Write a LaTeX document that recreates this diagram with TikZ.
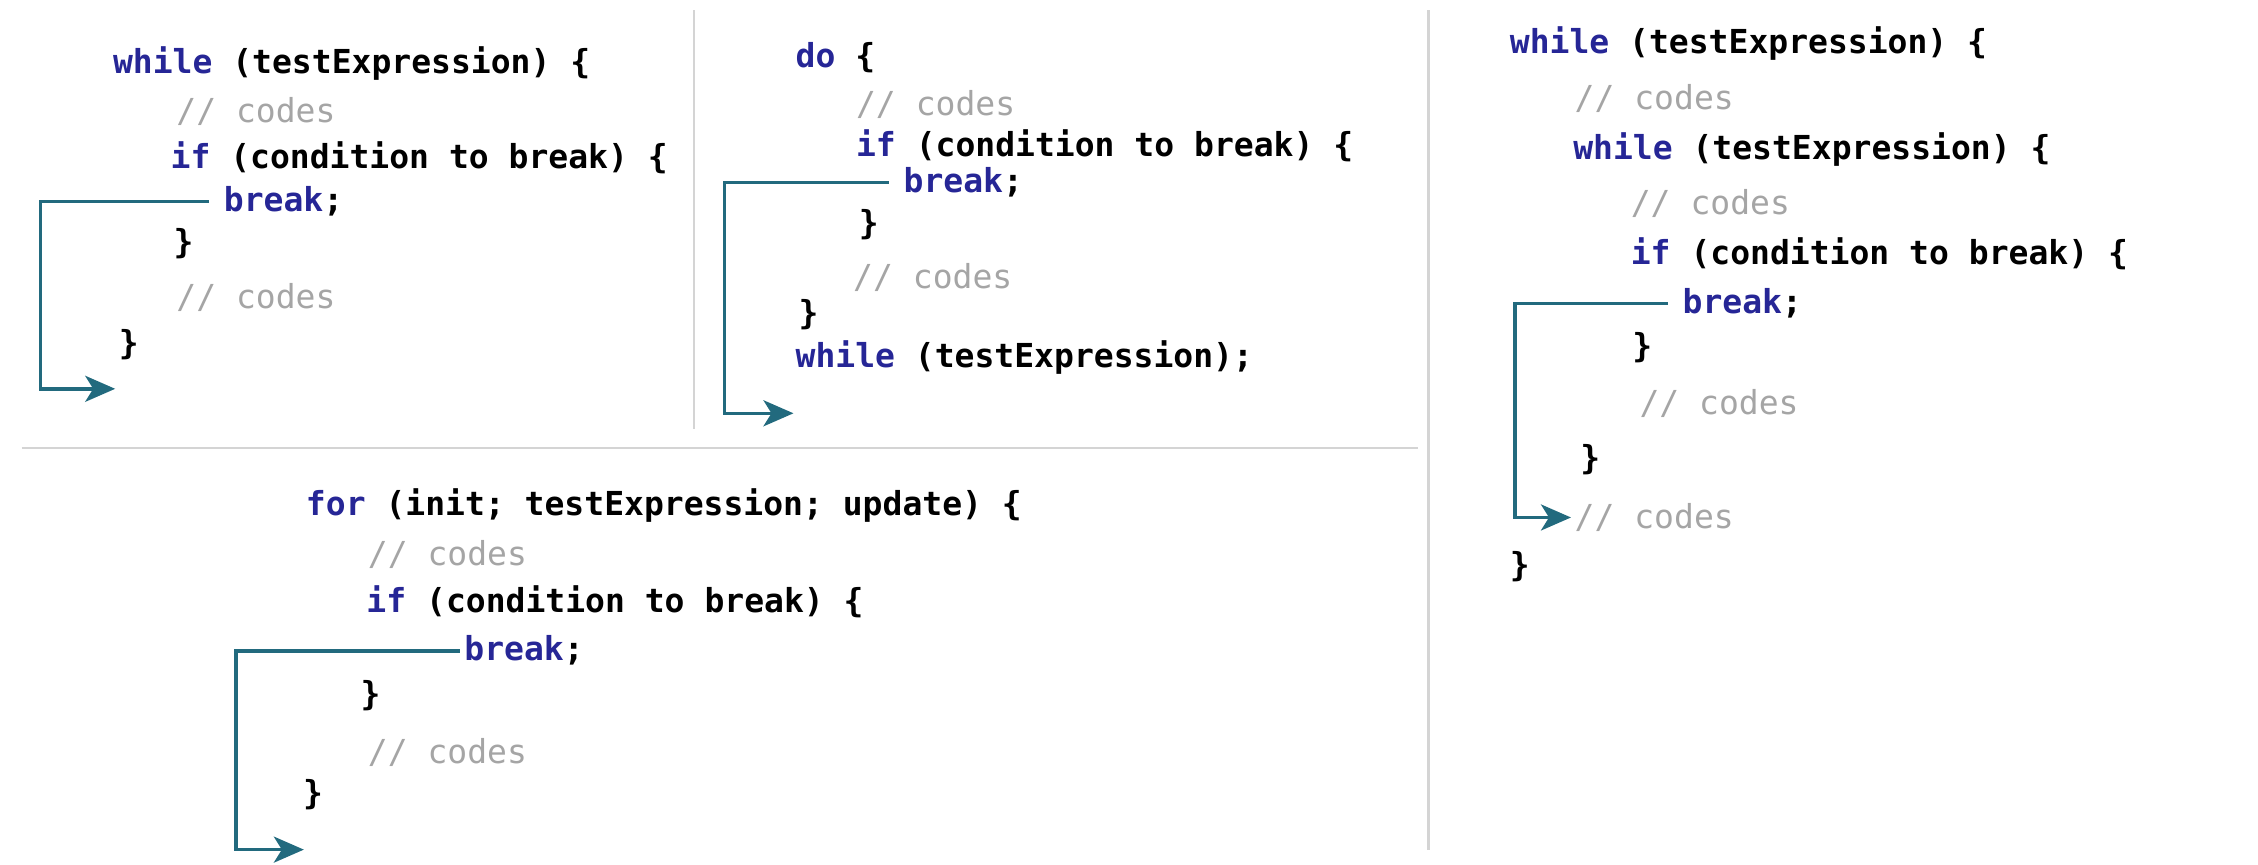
\documentclass[tikz,border=0pt]{standalone}
\usepackage{fontspec}
\setmonofont{DejaVu Sans Mono}
\usetikzlibrary{positioning,arrows.meta,calc}
\definecolor{kwblue}{RGB}{38,38,150}
\definecolor{cmtgray}{RGB}{165,165,165}
\definecolor{jumpteal}{RGB}{34,106,126}
\definecolor{sepgray}{RGB}{212,212,212}
\tikzset{
  code/.style={anchor=base west, inner sep=0pt,
    font=\fontsize{9.4}{11}\selectfont\ttfamily\bfseries},
  comment/.style={code, font=\fontsize{9.4}{11}\selectfont\ttfamily, text=cmtgray},
  jump/.style={draw=jumpteal, line width=1pt, shorten <=1.4mm,
    -{Stealth[length=3mm,width=2.6mm,inset=0.8mm]}},
  sep/.style={draw=sepgray, line width=0.7pt}
}
\newcommand{\kw}[1]{\textcolor{kwblue}{#1}}

\begin{document}
\begin{tikzpicture}[x=0.0144cm, y=-0.0144cm]
  \useasboundingbox (0,0) rectangle (1568,600);

  % separators
  \draw[sep] (482,7) -- (482,298);
  \draw[sep] (15,311) -- (985,311);
  \draw[sep] (992,7) -- (992,590);

  % while loop
  \node[code] (w1head) at (78,51) {\kw{while} (testExpression) \{};
  \node[comment] (w1c1) at (122,85) {// codes};
  \node[code] (w1if) at (118,117) {\kw{if} (condition to break) \{};
  \node[code] (w1brk) at (155,147) {\kw{break};};
  \node[code] (w1ifend) at (120,176) {\}};
  \node[comment] (w1c2) at (122,214) {// codes};
  \node[code] (w1end) at (82,246) {\}};
  \coordinate (w1out) at (80,270);
  \draw[jump] (w1brk.west) -- ++(-127,0) |- (w1out);

  % do...while loop
  \node[code] (d2head) at (552,47) {\kw{do} \{};
  \node[comment] (d2c1) at (594,80) {// codes};
  \node[code] (d2if) at (594,109) {\kw{if} (condition to break) \{};
  \node[code] (d2brk) at (627,134) {\kw{break};};
  \node[code] (d2ifend) at (596,163) {\}};
  \node[comment] (d2c2) at (592,200) {// codes};
  \node[code] (d2end) at (554,225) {\}};
  \node[code] (d2tail) at (552,255) {\kw{while} (testExpression);};
  \coordinate (d2out) at (551,287);
  \draw[jump] (d2brk.west) -- ++(-124,0) |- (d2out);

  % nested while loops
  \node[code] (n3head) at (1048,37) {\kw{while} (testExpression) \{};
  \node[comment] (n3c1) at (1093,76) {// codes};
  \node[code] (n3inner) at (1092,111) {\kw{while} (testExpression) \{};
  \node[comment] (n3c2) at (1132,149) {// codes};
  \node[code] (n3if) at (1132,184) {\kw{if} (condition to break) \{};
  \node[code] (n3brk) at (1168,218) {\kw{break};};
  \node[code] (n3ifend) at (1133,248) {\}};
  \node[comment] (n3c3) at (1138,288) {// codes};
  \node[code] (n3innerend) at (1097,326) {\}};
  \node[comment] (n3c4) at (1093,367) {// codes};
  \node[code] (n3end) at (1048,400) {\}};
  \draw[jump, shorten >=0.3mm] (n3brk.west) -- ++(-116,0) |- (n3c4.west);

  % for loop
  \node[code] (f4head) at (212,358) {\kw{for} (init; testExpression; update) \{};
  \node[comment] (f4c1) at (255,393) {// codes};
  \node[code] (f4if) at (254,425) {\kw{if} (condition to break) \{};
  \node[code] (f4brk) at (322,459) {\kw{break};};
  \node[code] (f4ifend) at (250,490) {\}};
  \node[comment] (f4c2) at (255,530) {// codes};
  \node[code] (f4end) at (210,559) {\}};
  \coordinate (f4out) at (211,590);
  \draw[jump, shorten <=0.4mm] (f4brk.west) -- ++(-158,0) |- (f4out);

\end{tikzpicture}
\end{document}
